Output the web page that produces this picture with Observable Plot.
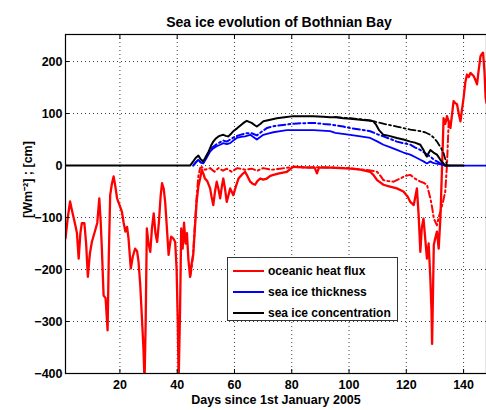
<!DOCTYPE html>
<html>
<head>
<meta charset="utf-8">
<script src="https://cdn.jsdelivr.net/npm/d3@7"></script>
<script src="https://cdn.jsdelivr.net/npm/@observablehq/plot@0.6"></script>
<style>
  html, body { margin: 0; padding: 0; background: #fff; }
  #wrap { position: relative; width: 486px; height: 410px; overflow: hidden; font-family: "Liberation Sans", Arial, Helvetica, sans-serif; }
  #legend { position: absolute; left: 227px; top: 257px; width: 171px; height: 64px; border: 1px solid #333; background: #fff; box-sizing: border-box; }
  .row { position: absolute; left: 5px; height: 14px; display: flex; align-items: center; font-weight: bold; font-size: 12px; color: #000; white-space: nowrap; }
  .sw { display: inline-block; width: 31px; height: 2px; margin-right: 4px; }
</style>
</head>
<body>
<div id="wrap"></div>
<script>
// ---- data ----
const titleText = "Sea ice evolution of Bothnian Bay";
const xLabel = "Days since 1st January 2005";
const yLabel = "[Wm\u207B\u00B2] ; [cm]";
const xTicks = [20, 40, 60, 80, 100, 120, 140];
const yTicks = [-400, -300, -200, -100, 0, 100, 200];
const seriesNames = ["oceanic heat flux", "sea ice thickness", "sea ice concentration"];
const seriesColors = ["#ff0000", "#0000ff", "#000000"];

// oceanic heat flux (solid) [day, W/m2]
const heatFlux = [
  [1,-140],[1.8,-100],[2.6,-69],[3.4,-90],[4.4,-114],[5.0,-130],[5.6,-179],[6.2,-130],[6.7,-111],[7.6,-111],
  [8.2,-150],[8.8,-214],[9.5,-170],[10.2,-147],[11.4,-124],[12.1,-110],[12.8,-63],[13.3,-110],[13.7,-160],[14.3,-250],
  [15.0,-255],[15.7,-317],[16.1,-180],[16.6,-57],[17.2,-35],[17.8,-21],[18.4,-40],[19.0,-63],[19.8,-75],[20.7,-89],
  [21.3,-110],[21.9,-127],[22.5,-118],[23.0,-140],[23.8,-198],[24.5,-175],[25.3,-160],[26.0,-165],[26.5,-185],[27.1,-230],
  [27.7,-295],[28.2,-350],[28.6,-415],[29.0,-300],[29.4,-121],[30.0,-150],[30.6,-166],[31.2,-120],[31.8,-92],[32.4,-130],
  [33.0,-147],[33.6,-110],[34.2,-60],[34.7,-34],[35.3,-45],[35.8,-70],[36.4,-120],[37.0,-172],[37.5,-150],[37.9,-137],
  [38.6,-140],[39.3,-147],[39.8,-200],[40.2,-300],[40.5,-415],[41.0,-280],[41.4,-121],[41.9,-160],[42.4,-110],[42.9,-150],
  [43.4,-130],[43.9,-180],[44.5,-214],[45.0,-190],[45.6,-172],[46.2,-120],[46.8,-69],[47.4,-40],[48.0,-25],[48.6,-8],
  [49.1,-15],[49.7,-25],[50.5,-30],[51.5,-44],[52.0,-60],[52.6,-76],[53.2,-50],[53.8,-31],[54.4,-45],[55.0,-63],
  [55.6,-40],[56.1,-25],[56.7,-45],[57.3,-70],[58.0,-55],[58.5,-44],[59.0,-50],[59.6,-57],[60.5,-40],[61.4,-25],
  [62.5,-18],[63.7,-12],[64.5,-20],[65.5,-31],[66.3,-35],[67.2,-37],[68.0,-30],[69.0,-25],[70.0,-27],[71.3,-25],
  [72.5,-20],[73.6,-18],[75.6,-15],[78.3,-12],[80.6,-2],[83,-3],[86,-4],[88.0,-4],[88.8,-15],[89.5,-4],
  [93.4,-4],[97,-5],[100.4,-6],[104,-8],[107.4,-12],[108.5,-18],[109.8,-28],[111,-33],[112,-37],[114,-40],
  [116.7,-44],[119,-50],[120.5,-60],[121.4,-70],[122.6,-76],[123.7,-44],[124.3,-95],[124.9,-166],[125.4,-120],[126.0,-102],
  [126.6,-140],[127.2,-179],[127.8,-150],[128.4,-218],[128.8,-280],[129.0,-343],[129.3,-250],[129.6,-153],[130.1,-140],[130.7,-127],
  [131.3,-160],[131.9,-102],[132.2,-50],[132.5,1],[132.8,50],[133.0,91],[133.6,80],[134.2,95],[134.8,85],[135.4,72],
  [136.0,100],[136.5,124],[137.1,120],[137.7,118],[138.3,100],[138.9,85],[139.5,110],[140.0,130],[140.6,160],[141.2,175],
  [141.8,170],[142.4,178],[143.0,175],[143.5,172],[144.1,165],[144.7,156],[145.3,185],[145.9,210],[146.4,215],[146.8,217],
  [147.3,180],[147.7,130],[148,120]
];
// oceanic heat flux (dash-dot variant)
const heatFluxAlt = [
  [44.5,-214],[45.0,-200],[45.6,-166],[46.2,-110],[46.8,-60],[47.4,-20],[48.0,-5],[48.6,-3],[49.7,-8],[51.5,-5],
  [53,-12],[54.4,-5],[56,-10],[57.3,-6],[59,-12],[61,-5],[63.7,-8],[66,-6],[68,-10],[70,-5],
  [73,-8],[76,-6],[80,-3],[85,-4],[90,-3],[95,-4],[100,-5],[105,-8],[108,-10],[109.8,-12],
  [111,-20],[112,-28],[113.5,-30],[115.6,-31],[117.9,-25],[119.5,-20],[121.4,-18],[123,-25],[124.9,-31],[126,-33],
  [127.2,-37],[128.4,-63],[129.0,-80],[129.6,-102],[130.7,-115],[131.3,-100],[131.9,-89],[132.8,-70],[133.6,-50],[134.2,1],
  [134.8,85]
];
// sea ice thickness (solid) [day, cm]
const thickness = [
  [45.6,0],[46.5,6],[47.4,11],[48.2,6],[49.1,4],[50.3,15],[51.5,27],[52.6,33],[53.8,37],
  [55,40],[56.1,43],[57.3,41],[58.5,43],[59.6,48],[60.8,53],[62.3,55],[63.7,56],[65.5,59],[66.6,55],
  [67.8,50],[69,55],[70.1,59],[72,62],[73.6,64],[76,66],[78.3,68],[82,68],[87.6,68],[90.5,67],
  [93.4,66],[95.2,63],[97.8,61],[100.4,59],[104,56],[107.4,53],[110,46],[112,40],[114.5,35],[116.7,30],
  [119,25],[121.4,21],[123.2,16],[124.9,11],[126,8],[127.2,4],[128.4,8],[129.3,5],[130.1,4],[131.9,2],
  [133.6,0],[148,0]
];
// sea ice thickness (dash-dot variant)
const thicknessAlt = [
  [45.6,0],[46.5,6],[47.4,11],[48.2,6],[49.1,5],[50.3,18],[51.5,30],[52.6,36],[53.8,41],[55,45],
  [56.1,48],[57.3,46],[58.5,50],[60,55],[62,59],[64,62],[66,62],[67.8,58],[69.5,65],[71.3,72],
  [74,76],[78.3,79],[82,81],[87.6,82],[91,80],[93.4,79],[95.7,77],[98,75],[100.4,72],[104,69],
  [107.4,66],[110,60],[112,56],[114.5,51],[116.7,46],[119,43],[121.4,40],[123,35],[124.9,30],[126.5,24],
  [128.4,17],[130,10],[131.9,4],[133.6,0]
];
// sea ice concentration (solid)
const concentration = [
  [1,0],[44.5,0],[45.6,8],[46.5,15],[47.4,19],[48.2,12],[49.1,8],[50,17],[51,27],[51.8,38],
  [52.6,46],[53.5,52],[54.4,56],[55.3,58],[56.1,59],[57,57],[57.9,56],[58.8,61],[59.6,66],[61,72],
  [62.5,79],[63.4,83],[64.3,86],[65.1,84],[66,82],[67,78],[67.8,75],[69,80],[70.1,85],[72.5,88],
  [74.8,91],[77.5,93],[80.6,95],[84,95],[87.6,95],[91,94],[93.4,93],[95.7,93],[98,91],[100.4,90],
  [104,88],[107.4,86],[108.5,85],[109.5,78],[110.5,68],[112,59],[114,57],[116.7,53],[119,50],[121.4,46],
  [123,44],[124.9,40],[126,30],[126.8,20],[127.2,17],[127.8,24],[128.4,30],[129.5,25],[130.7,21],[132,10],
  [133.6,0],[140,0]
];
// sea ice concentration (dash-dot variant)
const concentrationAlt = [
  [95,93],[100.4,91],[104,89],[107.4,87],[110,83],[113.2,79],[116.7,75],[119,72],[121.4,69],[124.9,66],
  [126.5,64],[128.4,59],[129.5,54],[130.7,46],[132,35],[133,24],[134.2,1],[135,0]
];

// ---- chart ----
const font = '"Liberation Sans", Arial, Helvetica, sans-serif';
const dashDot = "7,3,2,3";
const gridStyle = {stroke: "#000", strokeOpacity: 0.75, strokeDasharray: "1,3", strokeWidth: 1};

const chart = Plot.plot({
  width: 486,
  height: 410,
  marginLeft: 65,
  marginRight: 0,
  marginTop: 34,
  marginBottom: 37,
  style: {fontFamily: font, fontWeight: "bold", fontSize: "12.5px", color: "#000", background: "#fff"},
  x: {domain: [1, 148]},
  y: {domain: [-400, 252]},
  marks: [
    Plot.gridX(xTicks, gridStyle),
    Plot.gridY(yTicks.filter(d => d > -400), gridStyle),
    Plot.line(heatFlux, {x: d => d[0], y: d => d[1], stroke: seriesColors[0], strokeWidth: 2.3, clip: true}),
    Plot.line(heatFluxAlt, {x: d => d[0], y: d => d[1], stroke: seriesColors[0], strokeWidth: 2, strokeDasharray: dashDot, clip: true}),
    Plot.line(thicknessAlt, {x: d => d[0], y: d => d[1], stroke: seriesColors[1], strokeWidth: 2, strokeDasharray: dashDot, clip: true}),
    Plot.line(thickness, {x: d => d[0], y: d => d[1], stroke: seriesColors[1], strokeWidth: 1.8, clip: true}),
    Plot.line(concentrationAlt, {x: d => d[0], y: d => d[1], stroke: seriesColors[2], strokeWidth: 1.8, strokeDasharray: dashDot, clip: true}),
    Plot.line(concentration, {x: d => d[0], y: d => d[1], stroke: seriesColors[2], strokeWidth: 2, clip: true}),
    Plot.axisX({ticks: xTicks, tickSize: -4, tickPadding: 11, label: null, fontSize: 12.5}),
    Plot.axisX({ticks: xTicks, anchor: "top", tickSize: -4, tickFormat: () => "", label: null}),
    Plot.axisY({ticks: yTicks, tickSize: -4, tickPadding: 7, label: null, fontSize: 12.5}),
    Plot.frame({stroke: "#000", strokeWidth: 1.2}),
    Plot.text([xLabel], {frameAnchor: "bottom", dy: 30, text: d => d, fontSize: 12.5, fontWeight: "bold", fill: "#000"}),
    Plot.text([yLabel], {frameAnchor: "left", dx: -38, dy: 14, rotate: -90, text: d => d, fontSize: 12.5, fontWeight: "bold", fill: "#000"}),
    Plot.text([titleText], {frameAnchor: "top", dy: -17, dx: 3, text: d => d, fontSize: 14, fontWeight: "bold", fill: "#000"})
  ]
});

const wrap = document.getElementById("wrap");
wrap.appendChild(chart);

// legend (inside plot area, as in the reference)
const legend = document.createElement("div");
legend.id = "legend";
seriesNames.forEach((name, i) => {
  const row = document.createElement("div");
  row.className = "row";
  row.style.top = (6 + i * 21) + "px";
  const sw = document.createElement("span");
  sw.className = "sw";
  sw.style.background = seriesColors[i];
  row.appendChild(sw);
  row.appendChild(document.createTextNode(name));
  legend.appendChild(row);
});
wrap.appendChild(legend);
</script>
</body>
</html>
